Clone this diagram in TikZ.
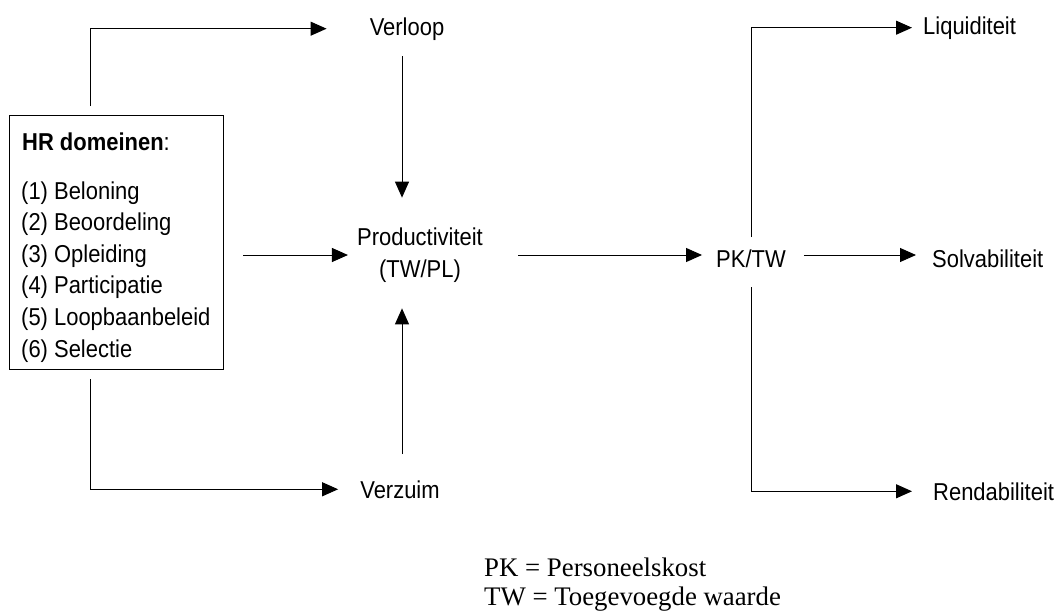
\documentclass[tikz,border=0pt]{standalone}
\usepackage{fontspec}
\setmainfont{Liberation Sans}[FakeStretch=0.9]
\newfontfamily\legendfont{Liberation Serif}
\usetikzlibrary{arrows.meta,calc}
\begin{document}
\begin{tikzpicture}[x=1pt,y=-1pt,
  lbl/.style={inner sep=0pt, font=\fontsize{24.4}{31.6}\selectfont},
  legend/.style={inner sep=0pt, font=\legendfont\fontsize{26.8}{29}\selectfont},
  conn/.style={line width=1pt},
  arr/.style={conn,-{Triangle[length=16pt,width=14pt]}}]
\useasboundingbox (0,0) rectangle (1059,613);

% HR box with the list of domains
\node[draw, line width=1pt, minimum width=214pt, minimum height=254pt,
      anchor=north west, inner sep=0pt] (hr) at (9,115) {};
\node[lbl, anchor=base west] (hrtitle) at (22,150) {\textbf{HR domeinen}:};
\node[lbl, anchor=base west, align=left] (hrlist) at (21,357)
  {(1) Beloning\\
   (2) Beoordeling\\
   (3) Opleiding\\
   (4) Participatie\\
   (5) Loopbaanbeleid\\
   (6) Selectie};

% middle column
\node[lbl, anchor=base] (verloop) at (407,35) {Verloop};
\node[lbl, align=center] (prod) at (420,255) {Productiviteit\\(TW/PL)};
\node[lbl, anchor=base] (verzuim) at (400,498) {Verzuim};

% right column
\node[lbl, anchor=base] (pktw) at (751,267) {PK/TW};
\node[lbl, anchor=base west] (liqu) at (923,34) {Liquiditeit};
\node[lbl, anchor=base west] (solv) at (932,267) {Solvabiliteit};
\node[lbl, anchor=base west] (rend) at (933,500) {Rendabiliteit};

% legend
\node[legend, anchor=base west] (leg1) at (484,576) {PK = Personeelskost};
\node[legend, anchor=base west] (leg2) at (484,605) {TW = Toegevoegde waarde};

% connectors from the HR box
\draw[arr] ($(hr.north west)+(81,-9)$) |- ($(verloop.west)+(-43,0)$);
\draw[arr] ($(hr.south west)+(81,9)$) |- ($(verzuim.west)+(-22,0)$);
\draw[arr] ($(hr.east |- prod)+(19,0)$) -- ($(prod.west)+(-9,0)$);

% into productivity
\draw[arr] ($(verloop.south)+(-5,16)$) -- ($(verloop.south |- prod.north)+(-5,-30)$);
\draw[arr] ($(verzuim.north)+(2,-26)$) -- ($(verzuim.north |- prod.south)+(2,26)$);

% productivity to PK/TW and onwards
\draw[arr] ($(prod.east)+(35,0)$) -- ($(prod.east -| pktw.west)+(-14,0)$);
\draw[arr] ($(pktw.east |- prod)+(18,0)$) -- ($(solv.west |- prod)+(-16,0)$);
\draw[arr] ($(pktw.north)+(0,-12)$) |- ($(liqu.west)+(-11,0)$);
\draw[arr] ($(pktw.south)+(0,20)$) |- ($(rend.west)+(-21,0)$);
\end{tikzpicture}
\end{document}
